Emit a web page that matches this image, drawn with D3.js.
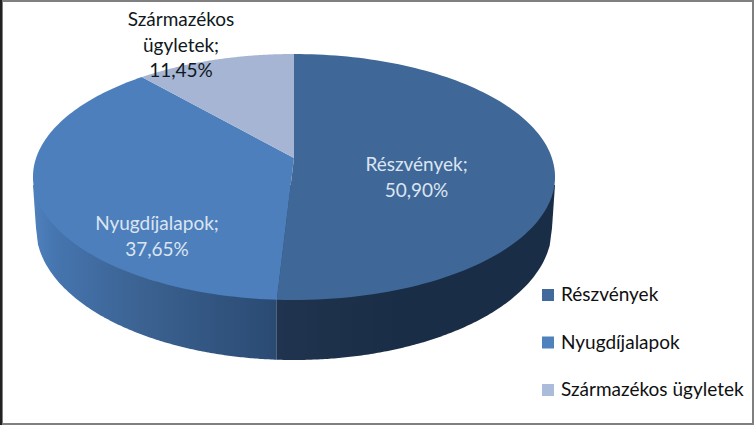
<!DOCTYPE html>
<html>
<head>
<meta charset="utf-8">
<script src="https://d3js.org/d3.v7.min.js"></script>
<style>
html, body { margin: 0; padding: 0; background: #fff; }
svg { display: block; }
text { font-family: Lato, "Open Sans", sans-serif; }
</style>
</head>
<body>
<svg width="754" height="425"></svg>
<script>
const categories = ['Részvények', 'Nyugdíjalapok', 'Származékos ügyletek'];
const values = [50.90, 37.65, 11.45];
const labelLines = [['Részvények;', '50,90%'], ['Nyugdíjalapok;', '37,65%'], ['Származékos', 'ügyletek;', '11,45%']];
const topColors = ['#3f6797', '#4d7fbc', '#a6b5d3'];
const legendColors = ['#41699c', '#4f81bd', '#aabcd9'];

const svg = d3.select('svg');
const width = 754, height = 425;

// frame, gray with a darker left side
svg.append('rect').attr('width', width).attr('height', height).attr('fill', '#808080');
svg.append('rect').attr('x', 0).attr('width', 2).attr('height', height).attr('fill', '#222');
svg.append('rect').attr('x', 3).attr('y', 2).attr('width', width - 5).attr('height', height - 4).attr('fill', '#fff');

// top face: a circle seen in perspective, the tip sits above the ellipse centre
const cx = 294, tipY = 158, k = 0.1545, by = -95.66, cr = 257.9;
const project = (a) => {
    const w = 1 + k * Math.cos(a);
    return [cx + cr * Math.sin(a) / w, (tipY + by * Math.cos(a)) / w];
};

// bottom rim of the side wall
const lowRx = 258, lowCy = 228, lowRy = 132;
const lowY = (x) => lowCy + lowRy * Math.sqrt(Math.max(0, 1 - ((x - cx) / lowRx) ** 2));

const pie = d3.pie().sort(null)(values);
const line = d3.line();
const arcPoints = (a0, a1) => d3.range(0, 121).map((i) => project(a0 + (a1 - a0) * i / 120));

const defs = svg.append('defs');
const splitX = project(pie[0].endAngle)[0];
const leftGrad = defs.append('linearGradient').attr('id', 'sideLeft')
    .attr('gradientUnits', 'userSpaceOnUse')
    .attr('x1', 33).attr('x2', splitX).attr('y1', 0).attr('y2', 0);
[[0, '#4f81bd'], [0.1, '#4574ae'], [0.45, '#3b6291'], [1, '#2a4a72']].forEach((s) => {
    leftGrad.append('stop').attr('offset', s[0]).attr('stop-color', s[1]);
});
const rightGrad = defs.append('linearGradient').attr('id', 'sideRight')
    .attr('gradientUnits', 'userSpaceOnUse')
    .attr('x1', splitX).attr('x2', 400).attr('y1', 0).attr('y2', 0);
[[0, '#20344f'], [1, '#1a2d46']].forEach((s) => {
    rightGrad.append('stop').attr('offset', s[0]).attr('stop-color', s[1]);
});

// side walls, the top face covers their upper parts
const rimPoints = (x0, x1) => d3.range(0, 121).map((i) => {
    const x = x0 + (x1 - x0) * i / 120;
    return [x, lowY(x)];
});
const leftRim = rimPoints(splitX, cx - lowRx).filter((p) => p[1] > lowCy);
const rightRim = rimPoints(splitX, cx + lowRx).filter((p) => p[1] > lowCy);
svg.append('path')
    .attr('d', line(leftRim.concat([[cx - lowRx, lowCy], [cx - 261, 185], [splitX, 185]])) + 'Z')
    .attr('fill', 'url(#sideLeft)');
svg.append('path')
    .attr('d', line(rightRim.concat([[cx + lowRx, lowCy], [cx + 261, 185], [splitX, 185]])) + 'Z')
    .attr('fill', 'url(#sideRight)');

// slices
svg.selectAll('.slice').data(pie).enter().append('path')
    .attr('class', 'slice')
    .attr('d', (d) => line([[cx, tipY]].concat(arcPoints(d.startAngle, d.endAngle))) + 'Z')
    .attr('fill', (d, i) => topColors[i]);

// data labels
const labelX = [416.5, 157, 181];
const labelY = [171, 230, 26];
labelLines.forEach((lines, i) => {
    const t = svg.append('text')
        .attr('text-anchor', 'middle')
        .attr('font-size', 19)
        .attr('fill', i === 2 ? '#101820' : '#dbe5f1');
    lines.forEach((s, j) => {
        t.append('tspan').attr('x', labelX[i]).attr('y', labelY[i] + j * 25.5).text(s);
    });
});

// legend
const legendY = d3.scalePoint().domain(categories).range([295, 390]);
const legend = svg.selectAll('.legend').data(categories).enter().append('g')
    .attr('class', 'legend')
    .attr('transform', (d) => `translate(542, ${legendY(d)})`);
legend.append('rect')
    .attr('y', -6).attr('width', 12).attr('height', 12)
    .attr('fill', (d, i) => legendColors[i]);
legend.append('text')
    .attr('x', 19).attr('y', 6)
    .attr('font-size', 19)
    .attr('fill', '#101010')
    .text((d) => d);
</script>
</body>
</html>
